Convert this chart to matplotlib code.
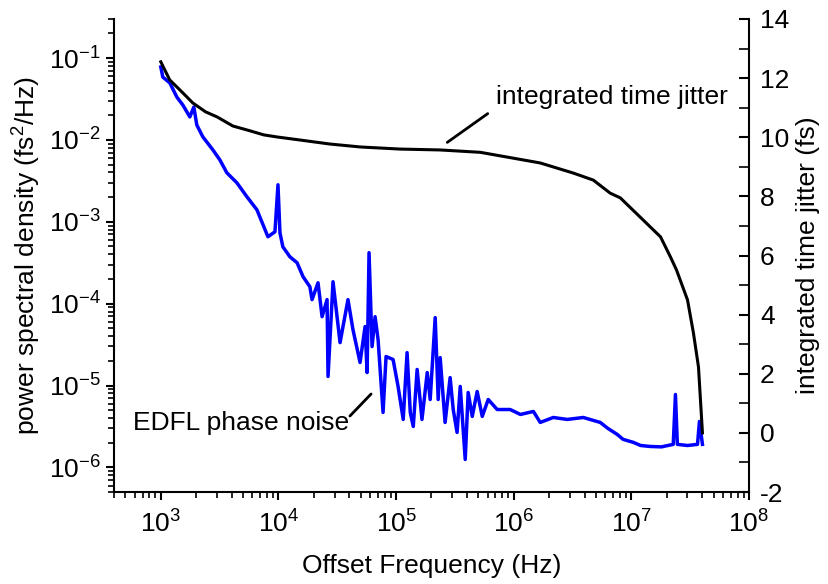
import matplotlib
matplotlib.use('Agg')
import matplotlib.pyplot as plt
from matplotlib.ticker import LogLocator, MultipleLocator, NullFormatter

plt.rcParams['font.family'] = ['Liberation Sans', 'DejaVu Sans']
plt.rcParams['mathtext.fontset'] = 'custom'
plt.rcParams['mathtext.rm'] = 'Liberation Sans'
plt.rcParams['mathtext.it'] = 'Liberation Sans:italic'
plt.rcParams['axes.unicode_minus'] = False

# EDFL phase noise PSD (fs^2/Hz)
psd_freq = [1000, 1040, 1194, 1368, 1539, 1765, 1909, 2024, 2276, 2770, 3178, 3645, 4436, 5395,
            6563, 8140, 9340, 9910, 1.03e4, 1.09e4, 1.25e4, 1.44e4, 1.62e4, 1.85e4, 1.93e4,
            2.17e4, 2.35e4, 2.59e4, 2.64e4, 2.91e4, 3.34e4, 3.90e4, 4.30e4, 4.94e4, 5.45e4,
            5.67e4, 5.89e4, 6.25e4, 6.63e4, 7.03e4, 7.75e4, 8.22e4, 9.43e4, 1.04e5, 1.15e5,
            1.24e5, 1.32e5, 1.40e5, 1.51e5, 1.66e5, 1.84e5, 1.95e5, 2.15e5, 2.28e5, 2.37e5,
            2.61e5, 2.88e5, 3.06e5, 3.30e5, 3.51e5, 3.87e5, 4.10e5, 4.44e5, 4.89e5, 5.40e5,
            6.07e5, 7.24e5, 9.33e5, 1.14e6, 1.47e6, 1.68e6, 2.17e6, 2.85e6, 3.90e6, 5.44e6,
            6.3e6, 7.60e6, 8.5e6, 1.04e7, 1.2e7, 1.45e7, 1.8e7, 2.27e7, 2.37e7, 2.46e7,
            3.0e7, 3.65e7, 3.79e7, 4.02e7]
psd_val = [0.0777, 0.0586, 0.0496, 0.0334, 0.0267, 0.0191, 0.0252, 0.0152, 0.0109, 0.00756,
           0.00570, 0.00396, 0.00299, 0.00202, 0.00140, 6.56e-4, 7.55e-4, 2.83e-3, 7.34e-4,
           4.95e-4, 3.74e-4, 3.16e-4, 2.13e-4, 1.61e-4, 1.12e-4, 1.80e-4, 6.93e-5, 1.12e-4,
           1.29e-5, 1.85e-4, 3.34e-5, 1.12e-4, 4.82e-5, 1.91e-5, 5.25e-5, 1.44e-5, 4.19e-4,
           2.99e-5, 6.93e-5, 3.64e-5, 4.69e-6, 2.26e-5, 2.08e-5, 9.73e-6, 3.85e-6, 2.52e-5,
           4.69e-6, 3.16e-6, 1.57e-5, 3.85e-6, 1.44e-5, 6.75e-6, 6.75e-5, 6.75e-6, 2.19e-5,
           3.54e-6, 1.25e-5, 5.09e-6, 2.67e-6, 9.73e-6, 1.25e-6, 8.22e-6, 4.19e-6, 8.45e-6,
           4.19e-6, 6.75e-6, 5.09e-6, 5.09e-6, 4.43e-6, 4.82e-6, 3.54e-6, 4.07e-6, 3.85e-6,
           4.07e-6, 3.54e-6, 3.0e-6, 2.52e-6, 2.2e-6, 2.02e-6, 1.85e-6, 1.80e-6, 1.78e-6,
           1.91e-6, 7.76e-6, 1.91e-6, 1.85e-6, 1.91e-6, 3.64e-6, 1.91e-6]

# integrated time jitter (fs)
jit_freq = [1000, 1190, 1540, 1870, 2400, 3000, 4100, 5700, 7500, 9700, 1.5e4, 27400, 5.0e4,
            1.08e5, 2.37e5, 5.2e5, 1.68e6, 3.2e6, 4.75e6, 6.6e6, 8.05e6, 1.26e7, 1.77e7,
            2.15e7, 2.42e7, 3.0e7, 3.37e7, 3.72e7, 4.02e7]
jit_val = [12.55, 11.94, 11.50, 11.16, 10.86, 10.69, 10.38, 10.22, 10.08, 10.01, 9.91, 9.77,
           9.67, 9.60, 9.57, 9.49, 9.13, 8.79, 8.55, 8.11, 7.95, 7.20, 6.63, 5.95, 5.51, 4.50,
           3.38, 2.23, 0.0]

fig = plt.figure(figsize=(8.29, 5.84), dpi=100)
ax = fig.add_axes([0.1375, 0.1575, 0.766, 0.81])
ax.plot(psd_freq, psd_val, color='#0000ff', lw=2.5)
ax.set_xscale('log')
ax.set_yscale('log')
ax.set_xlim(400, 1e8)
ax.set_ylim(5e-7, 0.3)

ax2 = ax.twinx()
ax2.plot(jit_freq, jit_val, color='black', lw=2.2)
ax2.set_ylim(-2, 14)
ax2.yaxis.set_major_locator(MultipleLocator(2))
ax2.yaxis.set_minor_locator(MultipleLocator(1))

for s in ['top', 'right']:
    ax.spines[s].set_visible(False)
for s in ['top', 'left', 'bottom']:
    ax2.spines[s].set_visible(False)
for a in (ax, ax2):
    for s in a.spines.values():
        s.set_linewidth(1.5)

ax.xaxis.set_major_locator(LogLocator(base=10, numticks=10))
ax.xaxis.set_minor_locator(LogLocator(base=10, subs=range(2, 10), numticks=20))
ax.yaxis.set_major_locator(LogLocator(base=10, numticks=10))
ax.yaxis.set_minor_locator(LogLocator(base=10, subs=range(2, 10), numticks=20))
ax.xaxis.set_minor_formatter(NullFormatter())
ax.yaxis.set_minor_formatter(NullFormatter())

ax.tick_params(axis='both', which='major', direction='out', length=6, width=1.5, labelsize=19)
ax.tick_params(axis='both', which='minor', direction='out', length=4, width=1.2)
ax.tick_params(axis='x', which='major', pad=7)
ax2.tick_params(axis='y', which='major', direction='in', length=7, width=1.5, labelsize=19, pad=8)
ax2.tick_params(axis='y', which='minor', direction='in', length=7, width=1.2)

ax.set_xlabel('Offset Frequency (Hz)', fontsize=19, labelpad=12)
ax.set_ylabel('power spectral density (fs$^2$/Hz)', fontsize=19, labelpad=4)
ax2.set_ylabel('integrated time jitter (fs)', fontsize=19, labelpad=5)

fig.text(612 / 829, 1 - 97 / 584, 'integrated time jitter', fontsize=19,
         ha='center', va='center')
ax2.annotate('', xy=(445 / 829, 1 - 144 / 584), xytext=(490 / 829, 1 - 112 / 584),
             xycoords='figure fraction', textcoords='figure fraction',
             arrowprops=dict(arrowstyle='-', lw=2, color='black'))
fig.text(241 / 829, 1 - 423 / 584, 'EDFL phase noise', fontsize=19,
         ha='center', va='center')
ax2.annotate('', xy=(348 / 829, 1 - 418 / 584), xytext=(373 / 829, 1 - 392 / 584),
             xycoords='figure fraction', textcoords='figure fraction',
             arrowprops=dict(arrowstyle='-', lw=2, color='black'))

fig.savefig('out.png', dpi=100)
